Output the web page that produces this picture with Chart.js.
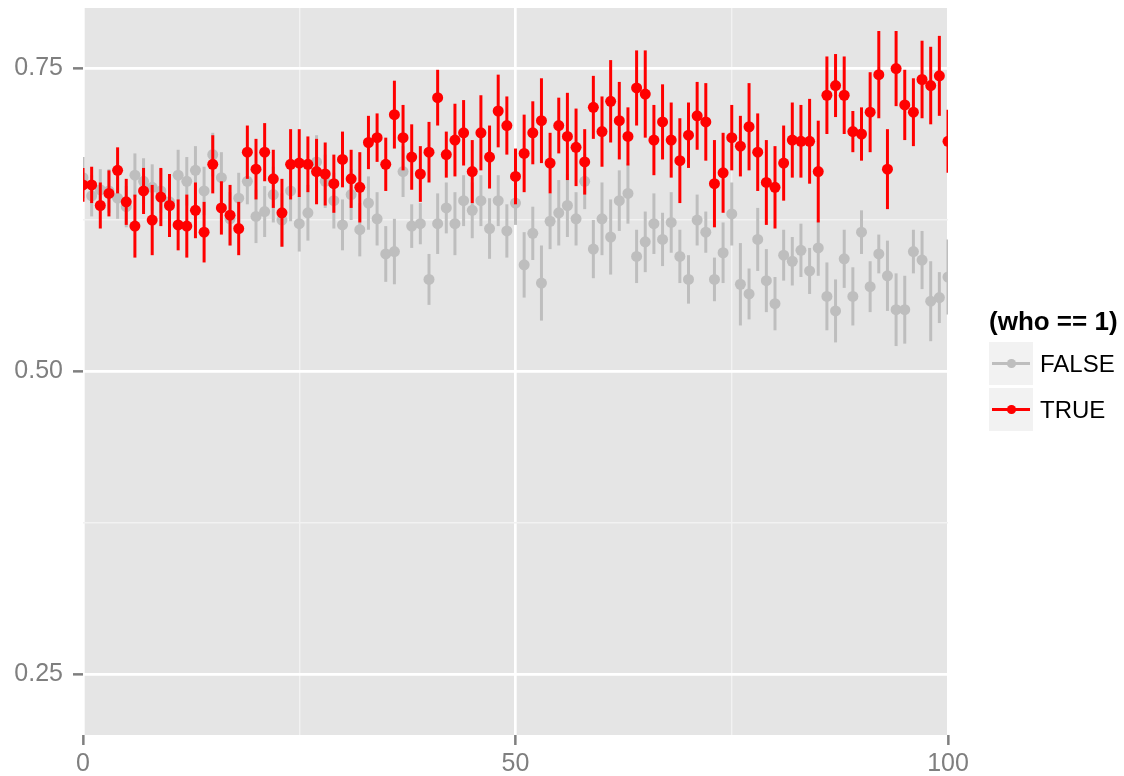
<!DOCTYPE html>
<html>
<head>
<meta charset="utf-8">
<script src="https://cdn.jsdelivr.net/npm/chart.js@4.4.1/dist/chart.umd.min.js"></script>
<style>
  body { margin: 0; background: #fff; }
  #wrap { position: relative; width: 1124px; height: 776px; }
  .legend { position: absolute; left: 989px; top: 0; font-family: "Liberation Sans", Arial, sans-serif; color: #000; }
  .legend .title { position: absolute; top: 308px; left: 0; font-size: 26px; font-weight: bold; line-height: 26px; white-space: nowrap; }
  .legend .row { position: absolute; left: 0; height: 43px; display: flex; align-items: center; white-space: nowrap; }
  .legend .key { position: relative; width: 44px; height: 43px; background: #F2F2F2; margin-right: 7px; }
  .legend .key .ln { position: absolute; left: 3px; width: 38px; top: 20px; height: 2.6px; }
  .legend .key .pt { position: absolute; left: 18px; top: 17px; width: 8.5px; height: 8.5px; border-radius: 50%; }
  .legend .lbl { font-size: 24px; }
</style>
</head>
<body>
<div id="wrap">
  <canvas id="chart" width="1124" height="776"></canvas>
  <div class="legend">
    <div class="title">(who == 1)</div>
    <div class="row" style="top:342px">
      <div class="key"><div class="ln" style="background:#BEBEBE"></div><div class="pt" style="background:#BEBEBE"></div></div>
      <span class="lbl">FALSE</span>
    </div>
    <div class="row" style="top:388px">
      <div class="key"><div class="ln" style="background:#FF0000"></div><div class="pt" style="background:#FF0000"></div></div>
      <span class="lbl">TRUE</span>
    </div>
  </div>
</div>
<script>
// trial index on the x axis
const trials = [
  0, 1, 2, 3, 4, 5, 6, 7, 8, 9, 10, 11, 12, 13, 14, 15, 16, 17, 18, 19, 20,
  21, 22, 23, 24, 25, 26, 27, 28, 29, 30, 31, 32, 33, 34, 35, 36, 37, 38, 39, 40,
  41, 42, 43, 44, 45, 46, 47, 48, 49, 50, 51, 52, 53, 54, 55, 56, 57, 58, 59, 60,
  61, 62, 63, 64, 65, 66, 67, 68, 69, 70, 71, 72, 73, 74, 75, 76, 77, 78, 79, 80,
  81, 82, 83, 84, 85, 86, 87, 88, 89, 90, 91, 92, 93, 94, 95, 96, 97, 98, 99, 100
];

// who == 1 is FALSE
const falseMean = [
  0.660, 0.645, 0.650, 0.649, 0.643, 0.636, 0.662, 0.657, 0.652, 0.649, 0.640,
  0.662, 0.657, 0.666, 0.649, 0.679, 0.660, 0.626, 0.643, 0.657, 0.628,
  0.632, 0.646, 0.625, 0.649, 0.622, 0.631, 0.673, 0.657, 0.641, 0.621,
  0.646, 0.617, 0.639, 0.626, 0.597, 0.599, 0.665, 0.620, 0.622, 0.576,
  0.622, 0.635, 0.622, 0.641, 0.633, 0.641, 0.618, 0.641, 0.616, 0.639,
  0.588, 0.614, 0.573, 0.624, 0.631, 0.637, 0.626, 0.657, 0.601, 0.626,
  0.611, 0.641, 0.647, 0.595, 0.607, 0.622, 0.609, 0.623, 0.595, 0.576,
  0.625, 0.615, 0.576, 0.598, 0.630, 0.572, 0.564, 0.609, 0.575, 0.556,
  0.596, 0.591, 0.600, 0.583, 0.602, 0.562, 0.550, 0.593, 0.562, 0.615,
  0.570, 0.597, 0.579, 0.551, 0.551, 0.599, 0.592, 0.558, 0.561, 0.578
];
const falseErr = [
  0.017, 0.017, 0.017, 0.018, 0.017, 0.017, 0.018, 0.019, 0.019, 0.018, 0.019,
  0.021, 0.020, 0.020, 0.020, 0.018, 0.021, 0.022, 0.021, 0.019, 0.022,
  0.021, 0.023, 0.022, 0.025, 0.023, 0.023, 0.022, 0.022, 0.023, 0.021,
  0.021, 0.022, 0.022, 0.022, 0.023, 0.027, 0.021, 0.018, 0.017, 0.021,
  0.025, 0.021, 0.026, 0.021, 0.023, 0.021, 0.025, 0.021, 0.022, 0.018,
  0.027, 0.022, 0.031, 0.023, 0.027, 0.026, 0.022, 0.023, 0.024, 0.030,
  0.031, 0.025, 0.025, 0.022, 0.025, 0.025, 0.022, 0.025, 0.022, 0.020,
  0.021, 0.017, 0.018, 0.025, 0.026, 0.034, 0.021, 0.026, 0.026, 0.022,
  0.021, 0.020, 0.022, 0.019, 0.023, 0.028, 0.026, 0.024, 0.024, 0.018,
  0.021, 0.016, 0.029, 0.030, 0.028, 0.018, 0.024, 0.033, 0.021, 0.031
];

// who == 1 is TRUE
const trueMean = [
  0.654, 0.654, 0.637, 0.647, 0.666, 0.640, 0.620, 0.649, 0.625, 0.644, 0.637,
  0.621, 0.620, 0.633, 0.615, 0.671, 0.635, 0.629, 0.618, 0.681, 0.667,
  0.681, 0.659, 0.631, 0.671, 0.672, 0.671, 0.665, 0.663, 0.655, 0.675,
  0.659, 0.652, 0.689, 0.693, 0.671, 0.712, 0.693, 0.677, 0.663, 0.681,
  0.726, 0.679, 0.691, 0.697, 0.665, 0.697, 0.677, 0.715, 0.703, 0.661,
  0.680, 0.697, 0.707, 0.672, 0.703, 0.694, 0.685, 0.673, 0.718, 0.698,
  0.723, 0.707, 0.694, 0.734, 0.729, 0.691, 0.706, 0.691, 0.674, 0.695,
  0.711, 0.706, 0.655, 0.664, 0.693, 0.686, 0.702, 0.681, 0.656, 0.652,
  0.672, 0.691, 0.690, 0.690, 0.665, 0.728, 0.736, 0.728, 0.698, 0.696,
  0.714, 0.745, 0.667, 0.750, 0.720, 0.714, 0.741, 0.736, 0.744, 0.690
];
const trueErr = [
  0.014, 0.015, 0.019, 0.019, 0.019, 0.019, 0.026, 0.019, 0.029, 0.024, 0.026,
  0.021, 0.026, 0.023, 0.025, 0.024, 0.022, 0.025, 0.022, 0.022, 0.025,
  0.024, 0.024, 0.028, 0.029, 0.028, 0.023, 0.027, 0.026, 0.024, 0.023,
  0.024, 0.029, 0.022, 0.020, 0.022, 0.028, 0.027, 0.027, 0.023, 0.025,
  0.023, 0.019, 0.030, 0.027, 0.026, 0.031, 0.026, 0.030, 0.024, 0.023,
  0.032, 0.026, 0.035, 0.025, 0.023, 0.036, 0.032, 0.027, 0.026, 0.029,
  0.034, 0.032, 0.024, 0.031, 0.036, 0.029, 0.031, 0.031, 0.035, 0.027,
  0.028, 0.032, 0.036, 0.033, 0.027, 0.025, 0.036, 0.032, 0.035, 0.034,
  0.031, 0.031, 0.030, 0.035, 0.042, 0.032, 0.026, 0.032, 0.017, 0.022,
  0.033, 0.036, 0.033, 0.031, 0.029, 0.028, 0.032, 0.032, 0.033, 0.026
];

// axis ticks; blank labels mark the minor grid lines
const xTicks = [0, 25, 50, 75, 100];
const xTickLabels = ['0', '', '50', '', '100'];
const yTicks = [0.25, 0.375, 0.5, 0.625, 0.75];
const yTickLabels = ['0.25', '', '0.50', '', '0.75'];

const toPoints = (ys) => trials.map((t, i) => ({ x: t, y: ys[i] }));

// grey panel behind the grid
const panelBg = {
  id: 'panelBg',
  beforeDraw(chart) {
    const { ctx, chartArea: a } = chart;
    ctx.save();
    ctx.fillStyle = '#E5E5E5';
    ctx.fillRect(a.left, a.top, a.right - a.left, a.bottom - a.top);
    ctx.restore();
  }
};

// vertical mean +/- error ranges, drawn just under each dataset's points
const errorBars = {
  id: 'errorBars',
  beforeDatasetDraw(chart, args) {
    const ds = chart.data.datasets[args.index];
    if (!ds.errors) return;
    const { ctx, chartArea: a, scales: { x, y } } = chart;
    ctx.save();
    ctx.beginPath();
    ctx.rect(a.left, a.top, a.right - a.left, a.bottom - a.top);
    ctx.clip();
    ctx.strokeStyle = ds.backgroundColor;
    ctx.lineWidth = 3;
    ctx.lineCap = 'butt';
    ds.data.forEach((p, i) => {
      const e = ds.errors[i];
      const px = x.getPixelForValue(p.x);
      ctx.beginPath();
      ctx.moveTo(px, y.getPixelForValue(p.y - e));
      ctx.lineTo(px, y.getPixelForValue(p.y + e));
      ctx.stroke();
    });
    ctx.restore();
  }
};

const tickFont = { family: '"Liberation Sans", Arial, sans-serif', size: 25 };

const gridFor = (labels) => ({
  color: (c) => (labels[c.index] ? '#FFFFFF' : '#F2F2F2'),
  lineWidth: (c) => (labels[c.index] ? 2.7 : 1.4),
  tickColor: (c) => (labels[c.index] ? '#7F7F7F' : 'rgba(0,0,0,0)'),
  tickWidth: 2.5,
  tickLength: 10
});

new Chart(document.getElementById('chart'), {
  type: 'scatter',
  data: {
    datasets: [
      {
        label: 'FALSE',
        data: toPoints(falseMean),
        errors: falseErr,
        backgroundColor: '#BEBEBE',
        borderWidth: 0,
        pointRadius: 5.5,
        pointHoverRadius: 5.5,
        clip: 0,
        order: 2
      },
      {
        label: 'TRUE',
        data: toPoints(trueMean),
        errors: trueErr,
        backgroundColor: '#FF0000',
        borderWidth: 0,
        pointRadius: 5.5,
        pointHoverRadius: 5.5,
        clip: 0,
        order: 1
      }
    ]
  },
  options: {
    responsive: false,
    animation: false,
    layout: { padding: { top: 8, right: 176, left: 0, bottom: 0 } },
    plugins: { legend: { display: false }, tooltip: { enabled: false } },
    scales: {
      x: {
        type: 'linear',
        min: 0,
        max: 100,
        afterBuildTicks: (s) => { s.ticks = xTicks.map(v => ({ value: v })); },
        afterFit: (s) => { s.height = 41; s.paddingLeft = 0; s.paddingRight = 0; },
        border: { display: false },
        grid: gridFor(xTickLabels),
        ticks: {
          font: tickFont,
          color: '#7F7F7F',
          padding: 4,
          maxRotation: 0,
          callback: (v, i) => xTickLabels[i]
        }
      },
      y: {
        min: 0.2,
        max: 0.8,
        afterBuildTicks: (s) => { s.ticks = yTicks.map(v => ({ value: v })); },
        afterFit: (s) => { s.width = 83; s.paddingTop = 0; s.paddingBottom = 0; },
        border: { display: false },
        grid: gridFor(yTickLabels),
        ticks: {
          font: tickFont,
          color: '#7F7F7F',
          padding: 10,
          callback: (v, i) => yTickLabels[i]
        }
      }
    }
  },
  plugins: [panelBg, errorBars]
});
</script>
</body>
</html>
